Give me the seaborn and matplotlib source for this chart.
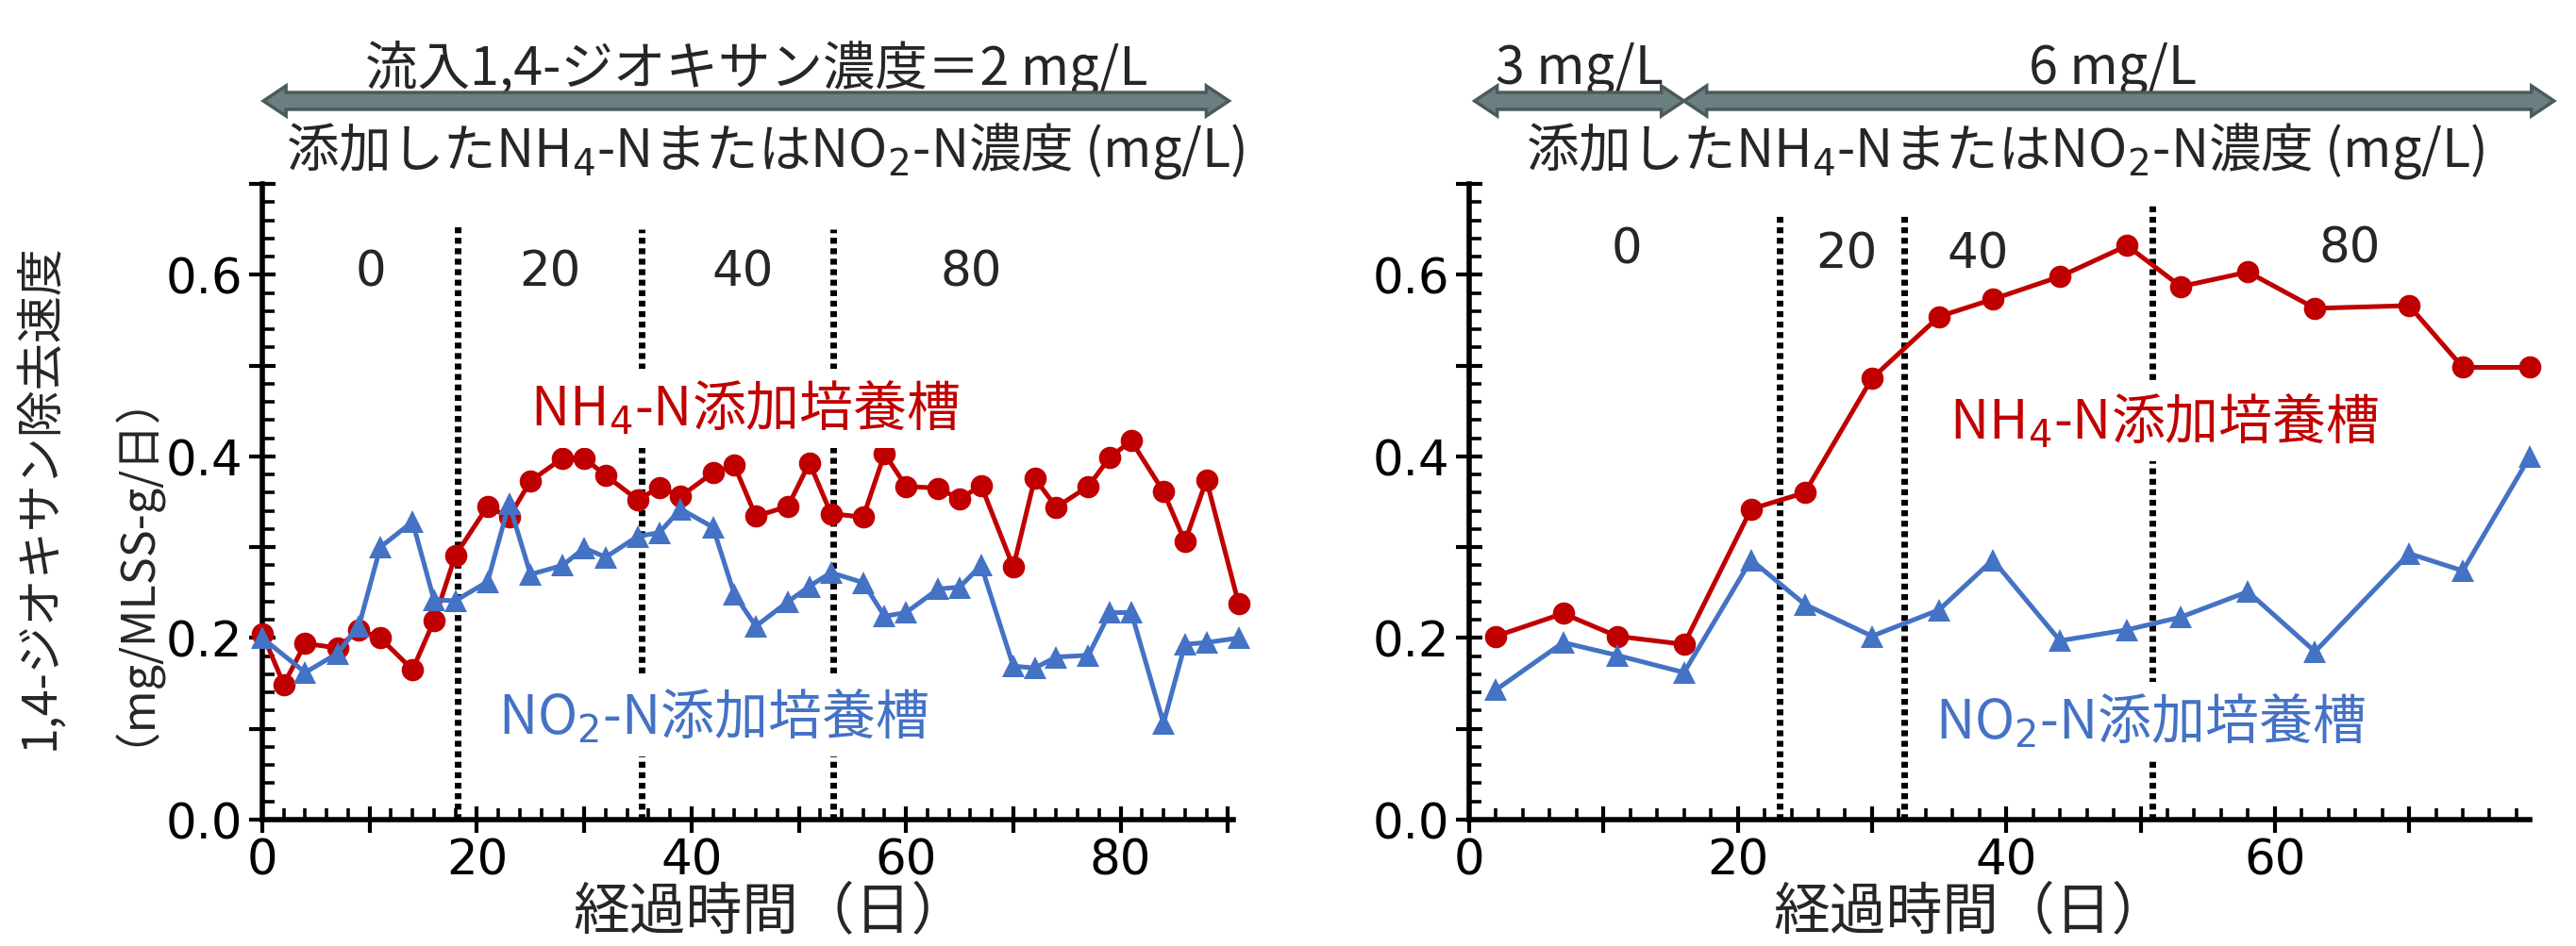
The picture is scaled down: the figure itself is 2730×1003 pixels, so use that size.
import numpy as np
import pandas as pd
import matplotlib
matplotlib.use('Agg')
import matplotlib.pyplot as plt
import seaborn as sns
from matplotlib.patches import Polygon
from matplotlib import transforms
from matplotlib.ticker import MultipleLocator

# Left panel: influent 1,4-dioxane = 2 mg/L
days_nh4_a = [0, 2, 4, 7, 9, 11, 14, 16, 18, 21, 23, 25, 28, 30, 32, 35, 37, 39, 42, 44,
              46, 49, 51, 53, 56, 58, 60, 63, 65, 67, 70, 72, 74, 77, 79, 81, 84, 86, 88, 91]
rate_nh4_a = [0.205, 0.149, 0.194, 0.189, 0.209, 0.200, 0.165, 0.219, 0.291, 0.345,
              0.333, 0.373, 0.398, 0.398, 0.379, 0.352, 0.366, 0.356, 0.382, 0.390,
              0.334, 0.345, 0.393, 0.337, 0.333, 0.403, 0.367, 0.365, 0.353, 0.368,
              0.278, 0.376, 0.344, 0.367, 0.399, 0.417, 0.361, 0.306, 0.374, 0.238]
days_no2_a = [0, 4, 7, 9, 11, 14, 16, 18, 21, 23, 25, 28, 30, 32, 35, 37, 39, 42, 44,
              46, 49, 51, 53, 56, 58, 60, 63, 65, 67, 70, 72, 74, 77, 79, 81, 84, 86, 88, 91]
rate_no2_a = [0.200, 0.162, 0.183, 0.213, 0.300, 0.328, 0.242, 0.241, 0.262, 0.348,
              0.270, 0.280, 0.299, 0.289, 0.312, 0.316, 0.342, 0.322, 0.248, 0.213,
              0.240, 0.257, 0.272, 0.261, 0.224, 0.228, 0.254, 0.256, 0.280, 0.169,
              0.167, 0.179, 0.181, 0.228, 0.228, 0.106, 0.193, 0.195, 0.200]
phase_days_a = [18.2, 35.4, 53.2]
phase_labels_a = ['0', '20', '40', '80']

# Right panel: influent 3 -> 6 mg/L
days_b = [2, 7, 11, 16, 21, 25, 30, 35, 39, 44, 49, 53, 58, 63, 70, 74, 79]
rate_nh4_b = [0.202, 0.227, 0.202, 0.193, 0.342, 0.360, 0.486, 0.554, 0.573, 0.598,
              0.632, 0.587, 0.603, 0.563, 0.566, 0.498, 0.498]
rate_no2_b = [0.143, 0.195, 0.181, 0.162, 0.286, 0.237, 0.202, 0.231, 0.286, 0.197,
              0.209, 0.223, 0.251, 0.185, 0.293, 0.274, 0.400]
phase_days_b = [23.1, 32.4, 50.9]
phase_labels_b = ['0', '20', '40', '80']

RED = '#c00000'
BLUE = '#4472c4'
ARROW_FC = '#6b7f80'
ARROW_EC = '#4b5b5b'

sns.set_style('white')
plt.rcParams['font.family'] = ['Noto Sans CJK JP', 'DejaVu Sans']
plt.rcParams['mathtext.fontset'] = 'dejavusans'

W, H = 2730, 1004
fig = plt.figure(figsize=(W / 100, H / 100), dpi=100)

y0_px, ytop_px = 870, 196
ax_a = fig.add_axes([278 / W, (H - y0_px) / H, 90.5 * 11.37 / W, (y0_px - ytop_px) / H])
ax_b = fig.add_axes([1557 / W, (H - y0_px) / H, 79 * 14.23 / W, (y0_px - ytop_px) / H])


def style_axis(ax, xmax):
    ax.set_xlim(0, xmax)
    ax.set_ylim(0, 0.7)
    for s in ['top', 'right']:
        ax.spines[s].set_visible(False)
    for s in ['left', 'bottom']:
        ax.spines[s].set_linewidth(4)
        ax.spines[s].set_color('black')
    ax.xaxis.set_major_locator(MultipleLocator(10))
    ax.xaxis.set_minor_locator(MultipleLocator(2))
    ax.xaxis.set_major_formatter(plt.FuncFormatter(lambda v, p: f'{v:.0f}' if int(round(v)) % 20 == 0 else ''))
    ax.yaxis.set_major_locator(MultipleLocator(0.1))
    ax.yaxis.set_minor_locator(MultipleLocator(0.02))
    ax.yaxis.set_major_formatter(plt.FuncFormatter(lambda v, p: f'{v:.1f}' if int(round(v * 10)) % 2 == 0 else ''))
    ax.tick_params(which='both', bottom=True, left=True, top=False, right=False)
    ax.tick_params(which='major', direction='inout', length=20, width=3, colors='black',
                   labelsize=37, labelfontfamily='DejaVu Sans')
    ax.tick_params(which='minor', direction='in', length=9, width=2.6, colors='black')
    ax.tick_params(axis='x', which='major', pad=3)
    ax.tick_params(axis='y', which='major', pad=5)
    ax.set_xlabel('')
    ax.set_ylabel('')


def draw_series(ax, dn, yn, dm, ym):
    sns.lineplot(x=dn, y=yn, ax=ax, color=RED, marker='o', markersize=17, linewidth=3.6,
                 markeredgewidth=0, clip_on=False, zorder=4)
    sns.lineplot(x=dm, y=ym, ax=ax, color=BLUE, marker='^', markersize=17, linewidth=3.6,
                 markeredgewidth=0, clip_on=False, zorder=4)


def double_arrow(ax, x0, x1, yc, px_per_day):
    tr = transforms.blended_transform_factory(ax.transData, fig.transFigure)
    L = 24 / px_per_day
    h, hh = 9 / H, 16 / H
    pts = [(x0, yc), (x0 + L, yc + hh), (x0 + L, yc + h), (x1 - L, yc + h), (x1 - L, yc + hh),
           (x1, yc), (x1 - L, yc - hh), (x1 - L, yc - h), (x0 + L, yc - h), (x0 + L, yc - hh)]
    ax.add_patch(Polygon(pts, closed=True, transform=tr, facecolor=ARROW_FC,
                         edgecolor=ARROW_EC, linewidth=2.5, clip_on=False, zorder=6))


style_axis(ax_a, 90.5)
style_axis(ax_b, 79)

draw_series(ax_a, days_nh4_a, rate_nh4_a, days_no2_a, rate_no2_a)
draw_series(ax_b, days_b, rate_nh4_b, days_b, rate_no2_b)

dot = (0, (0.9, 0.7))
ax_a.vlines(phase_days_a, 0, [0.656, 0.65, 0.65], colors='black', linestyles=dot, linewidth=5, zorder=2)
ax_b.vlines(phase_days_b, 0, [0.669, 0.669, 0.676], colors='black', linestyles=dot, linewidth=5, zorder=2)

for lab, xd, yv in zip(phase_labels_a, [10.1, 26.8, 44.8, 66.1], [0.603] * 4):
    ax_a.text(xd, yv, lab, ha='center', va='center', fontsize=37, family='DejaVu Sans')
for lab, xd, yv in zip(phase_labels_b, [11.7, 28.1, 37.9, 65.6], [0.628, 0.623, 0.623, 0.629]):
    ax_b.text(xd, yv, lab, ha='center', va='center', fontsize=37, family='DejaVu Sans')

NH4 = r'NH$_4$-N添加培養槽'
NO2 = r'NO$_2$-N添加培養槽'
box = dict(boxstyle='square,pad=0.2', facecolor='white', edgecolor='none')
ax_a.text(25.0, 0.453, NH4, color=RED, fontsize=41, ha='left', va='center', bbox=box, zorder=5)
ax_a.text(22.0, 0.113, NO2, color=BLUE, fontsize=41, ha='left', va='center', bbox=box, zorder=5)
ax_b.text(35.8, 0.438, NH4, color=RED, fontsize=41, ha='left', va='center', bbox=box, zorder=5)
ax_b.text(34.7, 0.108, NO2, color=BLUE, fontsize=41, ha='left', va='center', bbox=box, zorder=5)

# top annotations
ya_text, ya_arrow, ya_sub = 1 - 73 / H, 1 - 108 / H, 1 - 160 / H
tra = transforms.blended_transform_factory(ax_a.transData, fig.transFigure)
trb = transforms.blended_transform_factory(ax_b.transData, fig.transFigure)
double_arrow(ax_a, 0.1, 90.1, ya_arrow, 11.37)
double_arrow(ax_b, 0.4, 16.0, ya_arrow, 14.23)
double_arrow(ax_b, 16.0, 80.8, ya_arrow, 14.23)
SUB = r'添加したNH$_4$-NまたはNO$_2$-N濃度 (mg/L)'
ax_a.text(46.1, ya_text, '流入1,4-ジオキサン濃度＝2 mg/L', transform=tra, ha='center', va='center',
          fontsize=40, clip_on=False)
ax_a.text(46.9, ya_sub, SUB, transform=tra, ha='center', va='center', fontsize=40, clip_on=False)
ax_b.text(8.2, ya_text, '3 mg/L', transform=trb, ha='center', va='center', fontsize=40, clip_on=False)
ax_b.text(47.9, ya_text, '6 mg/L', transform=trb, ha='center', va='center', fontsize=40, clip_on=False)
ax_b.text(39.9, ya_sub, SUB, transform=trb, ha='center', va='center', fontsize=40, clip_on=False)

# axis labels
fig.text(817 / W, 1 - 968 / H, '経過時間（日）', ha='center', va='center', fontsize=43)
fig.text(2089 / W, 1 - 968 / H, '経過時間（日）', ha='center', va='center', fontsize=43)
fig.text(42 / W, 1 - 527 / H, '1,4-ジオキサン除去速度', rotation=90, ha='center', va='center', fontsize=36)
fig.text(117 / W, 1 - 579 / H, '（mg/MLSS-g/日）', rotation=90, ha='center', va='center', fontsize=35)

fig.savefig('out.png', dpi=100, facecolor='white')
